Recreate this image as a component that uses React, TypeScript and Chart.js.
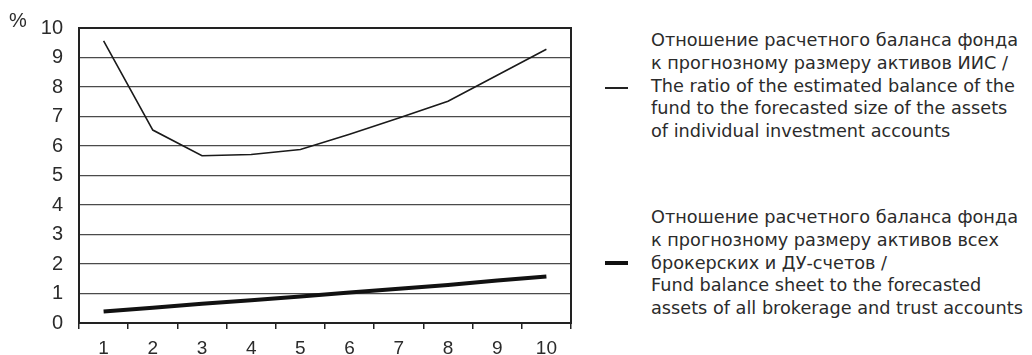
import React, { useEffect, useRef } from "react";
import { Chart, registerables } from "chart.js";

Chart.register(...registerables);

const categories = ["1", "2", "3", "4", "5", "6", "7", "8", "9", "10"];
const iisRatio = [9.56, 6.54, 5.67, 5.71, 5.88, 6.4, 6.95, 7.52, 8.4, 9.28];
const brokerageRatio = [0.39, 0.52, 0.65, 0.77, 0.9, 1.03, 1.16, 1.29, 1.44, 1.58];
const yTicks = [0, 1, 2, 3, 4, 5, 6, 7, 8, 9, 10];
const legendIis = [
  "Отношение расчетного баланса фонда",
  "к прогнозному размеру активов ИИС /",
  "The ratio of the estimated balance of the",
  "fund to the forecasted size of the assets",
  "of individual investment accounts",
];
const legendBrokerage = [
  "Отношение расчетного баланса фонда",
  "к прогнозному размеру активов всех",
  "брокерских и ДУ-счетов /",
  "Fund balance sheet to the forecasted",
  "assets of all brokerage and trust accounts",
];

const FONT = "'Liberation Sans', Arial, sans-serif";
const LEGEND_FONT = "'DejaVu Sans', sans-serif";
const TEXT = "#2b2b2b";

const frame = {
  id: "frame",
  afterDraw(chart: any) {
    const { ctx, chartArea } = chart;
    ctx.save();
    ctx.strokeStyle = "#222";
    ctx.lineWidth = 2;
    ctx.strokeRect(chartArea.left, chartArea.top, chartArea.right - chartArea.left, chartArea.bottom - chartArea.top);
    ctx.restore();
  },
};

export default function App() {
  const ref = useRef<HTMLCanvasElement>(null);
  useEffect(() => {
    if (!ref.current) return;
    const chart = new Chart(ref.current, {
      type: "line",
      data: {
        labels: categories,
        datasets: [
          {
            label: legendIis.join(" "),
            data: iisRatio,
            borderColor: "#1a1a1a",
            borderWidth: 1.6,
            pointRadius: 0,
            tension: 0,
          },
          {
            label: legendBrokerage.join(" "),
            data: brokerageRatio,
            borderColor: "#111",
            borderWidth: 4,
            pointRadius: 0,
            tension: 0,
          },
        ],
      },
      options: {
        animation: false,
        responsive: false,
        maintainAspectRatio: false,
        layout: { padding: { top: 20, right: 29, left: 0, bottom: 0 } },
        plugins: { legend: { display: false }, tooltip: { enabled: false } },
        scales: {
          x: {
            offset: true,
            grid: { offset: true, drawOnChartArea: false, drawTicks: true, tickLength: 6, color: "#222", lineWidth: 1.5 },
            border: { color: "#222", width: 2 },
            ticks: { color: TEXT, font: { family: FONT, size: 19 }, padding: 8 },
            afterFit: (s: any) => { s.height = 32; },
          },
          y: {
            min: 0,
            max: 10,
            afterBuildTicks: (s: any) => { s.ticks = yTicks.map((v) => ({ value: v })); },
            grid: { color: "#4a4a4a", lineWidth: 1.2, drawTicks: false },
            border: { color: "#222", width: 2 },
            ticks: { color: TEXT, font: { family: FONT, size: 20 }, padding: 16 },
            afterFit: (s: any) => { s.width = 79; },
          },
        },
      },
      plugins: [frame],
    });
    return () => chart.destroy();
  }, []);

  const legendText: React.CSSProperties = {
    position: "absolute",
    left: 651,
    fontFamily: LEGEND_FONT,
    fontSize: 17.7,
    lineHeight: "22.8px",
    color: TEXT,
    whiteSpace: "nowrap",
  };

  return (
    <div style={{ position: "fixed", left: 0, top: 0, width: 1032, height: 355, background: "#fff" }}>
      <canvas ref={ref} width={600} height={355} style={{ position: "absolute", left: 0, top: 0 }} />
      <div style={{ position: "absolute", left: 9, top: 9, fontFamily: FONT, fontSize: 20, color: TEXT }}>%</div>
      <div style={{ position: "absolute", left: 605, top: 87, width: 23, height: 1.5, background: "#222" }} />
      <div style={{ ...legendText, top: 29 }}>
        {legendIis.map((l, i) => <div key={i}>{l}</div>)}
      </div>
      <div style={{ position: "absolute", left: 605, top: 261, width: 23, height: 4, background: "#111" }} />
      <div style={{ ...legendText, top: 206 }}>
        {legendBrokerage.map((l, i) => <div key={i}>{l}</div>)}
      </div>
    </div>
  );
}
